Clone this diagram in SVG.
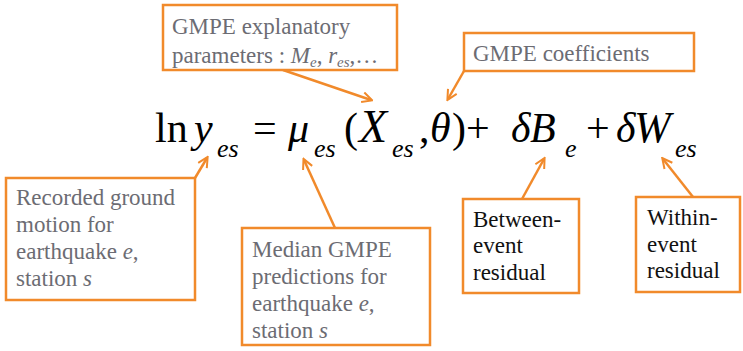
<svg xmlns="http://www.w3.org/2000/svg" width="743" height="351" viewBox="0 0 743 351">
<style>
.box{fill:#fff;stroke:#F18A2B;stroke-width:2.5}
text{font-family:'Liberation Serif','DejaVu Serif',serif}
.lbl{font-size:23px;fill:#6c6c73}
.lblk{font-size:23px;fill:#111}
.it{font-style:italic}
.eq{font-size:42px;fill:#000}
.sub{font-size:26px;font-style:italic}
.conn line{stroke:#F18A2B;stroke-width:2.5;fill:none}
</style>
<defs>
<marker id="ah" viewBox="0 0 10 10" refX="8" refY="5" markerWidth="5" markerHeight="5" orient="auto" markerUnits="strokeWidth">
<path d="M1,1 L9,5 L1,9" fill="none" stroke="#F18A2B" stroke-width="1.6"/>
</marker>
</defs>
<rect width="743" height="351" fill="#fff"/>

<g id="equation">
<text class="eq" y="142"><tspan x="155">ln</tspan><tspan class="it" x="194">y</tspan><tspan class="sub" x="217" y="157">es</tspan><tspan x="253" y="142">=</tspan><tspan class="it" x="288">μ</tspan><tspan class="sub" x="314" y="157">es</tspan><tspan x="344" y="142">(</tspan><tspan class="it" x="359" font-size="46">X</tspan><tspan class="sub" x="392" y="157">es</tspan><tspan x="419" y="142">,</tspan><tspan class="it" x="430">θ</tspan><tspan x="452">)</tspan><tspan x="466">+</tspan><tspan class="it" x="511">δ</tspan><tspan class="it" x="530">B</tspan><tspan class="sub" x="565" y="157">e</tspan><tspan x="586" y="142">+</tspan><tspan class="it" x="616">δ</tspan><tspan class="it" x="634" font-size="44">W</tspan><tspan class="sub" x="675" y="157">es</tspan></text>
</g>

<g class="conn" id="connectors">
<line x1="283" y1="70" x2="371" y2="100" marker-end="url(#ah)"/>
<line x1="464" y1="71" x2="448" y2="99" marker-end="url(#ah)"/>
<line x1="195" y1="178" x2="207" y2="158" marker-end="url(#ah)"/>
<line x1="335" y1="228" x2="304" y2="160" marker-end="url(#ah)"/>
<line x1="522" y1="199" x2="544" y2="159" marker-end="url(#ah)"/>
<line x1="693" y1="197" x2="663" y2="159" marker-end="url(#ah)"/>
</g>

<g id="node-explanatory">
<rect class="box" x="163" y="5" width="234" height="65"/>
<text class="lbl" x="172" y="34">GMPE explanatory</text>
<text class="lbl" x="172" y="63">parameters : <tspan class="it">M</tspan><tspan class="it" font-size="15" dy="4">e</tspan><tspan dy="-4">, </tspan><tspan class="it">r</tspan><tspan class="it" font-size="15" dy="4">es</tspan><tspan dy="-4">,…</tspan></text>
</g>

<g id="node-coefficients">
<rect class="box" x="464" y="33" width="230" height="38"/>
<text class="lbl" x="473" y="61">GMPE coefficients</text>
</g>

<g id="node-recorded">
<rect class="box" x="6" y="178" width="189" height="122"/>
<text class="lbl" x="16" y="205">Recorded ground</text>
<text class="lbl" x="16" y="232">motion for</text>
<text class="lbl" x="16" y="259">earthquake <tspan class="it">e</tspan>,</text>
<text class="lbl" x="16" y="286">station <tspan class="it">s</tspan></text>
</g>

<g id="node-median">
<rect class="box" x="242" y="228" width="188" height="117"/>
<text class="lbl" x="252" y="257">Median GMPE</text>
<text class="lbl" x="252" y="284">predictions for</text>
<text class="lbl" x="252" y="311">earthquake <tspan class="it">e</tspan>,</text>
<text class="lbl" x="252" y="338">station <tspan class="it">s</tspan></text>
</g>

<g id="node-between">
<rect class="box" x="463" y="199" width="116" height="94"/>
<text class="lblk" x="473" y="227">Between-</text>
<text class="lblk" x="473" y="253">event</text>
<text class="lblk" x="473" y="280">residual</text>
</g>

<g id="node-within">
<rect class="box" x="636" y="197" width="104" height="95"/>
<text class="lblk" x="647" y="225">Within-</text>
<text class="lblk" x="647" y="252">event</text>
<text class="lblk" x="647" y="278">residual</text>
</g>
</svg>
